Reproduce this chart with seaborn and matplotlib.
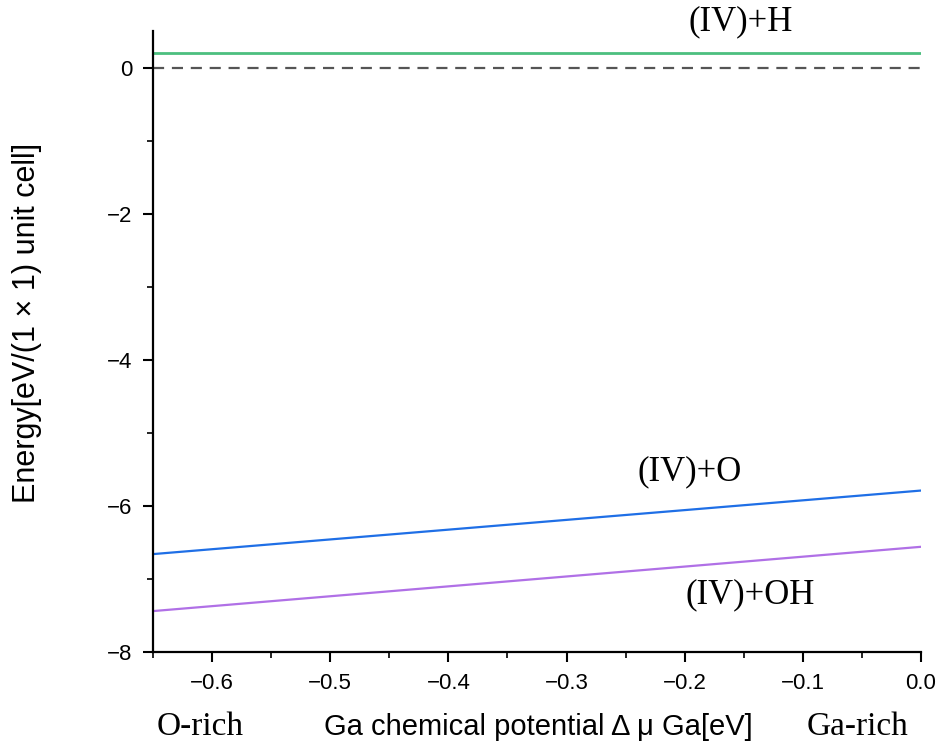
import matplotlib
matplotlib.use("Agg")
import matplotlib.pyplot as plt
import seaborn as sns
import pandas as pd
import numpy as np

# Data
mu_ga = [-0.65, 0.0]
e_h = [0.2, 0.2]
e_o = [-6.66, -5.79]
e_oh = [-7.44, -6.56]
ref_zero = [0.0, 0.0]
labels = ["(IV)+H", "(IV)+O", "(IV)+OH"]
label_pos_x = [-0.153, -0.196, -0.145]
label_pos_y = [0.63, -5.53, -7.22]

sns.set_theme(style="ticks")
plt.rcParams['font.family'] = ['Liberation Sans', 'Noto Sans CJK JP', 'DejaVu Sans']
plt.rcParams['text.color'] = 'black'
plt.rcParams['axes.labelcolor'] = 'black'

fig = plt.figure(figsize=(9.43, 7.49), dpi=100)
ax = fig.add_axes([0.1622, 0.1295, 0.8145, 0.8291])

df = pd.DataFrame({"x": mu_ga * 4,
                   "y": e_h + e_o + e_oh + ref_zero,
                   "s": ["H"] * 2 + ["O"] * 2 + ["OH"] * 2 + ["zero"] * 2})

sns.lineplot(data=df[df.s == "H"], x="x", y="y", color="#4cbf7f", lw=2, ax=ax)
sns.lineplot(data=df[df.s == "O"], x="x", y="y", color="#1f6fe6", lw=1.6, ax=ax)
sns.lineplot(data=df[df.s == "OH"], x="x", y="y", color="#b070e6", lw=1.6, ax=ax)
sns.lineplot(data=df[df.s == "zero"], x="x", y="y", color="#555555", lw=1.6,
             ax=ax, linestyle=(0, (5, 3.5)))

ax.set_xlim(-0.65, 0.0)
ax.set_ylim(-8, 0.5)
ax.set_xticks([-0.6, -0.5, -0.4, -0.3, -0.2, -0.1, 0.0])
ax.set_xticks(np.arange(-0.65, 0.001, 0.05), minor=True)
ax.set_yticks([-8, -6, -4, -2, 0])
ax.set_yticks([-7, -5, -3, -1], minor=True)
ax.set_xticklabels(["\u22120.6", "\u22120.5", "\u22120.4", "\u22120.3", "\u22120.2", "\u22120.1", "0.0"])
ax.set_yticklabels(["\u22128", "\u22126", "\u22124", "\u22122", "0"])
ax.tick_params(axis='both', which='major', direction='out', length=7, width=1.5,
               labelsize=16, colors='black', pad=8)
ax.tick_params(axis='both', which='minor', direction='out', length=4, width=1.2,
               colors='black')
for sp in ["top", "right"]:
    ax.spines[sp].set_visible(False)
for sp in ["left", "bottom"]:
    ax.spines[sp].set_linewidth(1.6)
    ax.spines[sp].set_color('black')

ax.set_xlabel("")
ax.set_ylabel("Energy[eV/(1 \u00d7 1) unit cell]", fontsize=22,
              family=['Liberation Sans'], color='black')
ax.yaxis.set_label_coords(-0.145, 0.53)

for t, x, y in zip(labels, label_pos_x, label_pos_y):
    ax.text(x, y, t, family='Liberation Serif', fontsize=25, ha='center',
            va='center', clip_on=False, color='black')

fig.text(538 / 943, 1 - 727 / 749, "Ga chemical potential \u0394 \u03bc Ga[eV]",
         fontsize=21, ha='center', va='center',
         family=['Liberation Sans'], color='black')
fig.text(200 / 943, 1 - 727 / 749, "O-rich", fontsize=24, ha='center',
         va='center', family='Liberation Serif', color='black')
fig.text(858 / 943, 1 - 727 / 749, "Ga-rich", fontsize=24, ha='center',
         va='center', family='Liberation Serif', color='black')

fig.savefig("out.png", dpi=100, facecolor='white')
